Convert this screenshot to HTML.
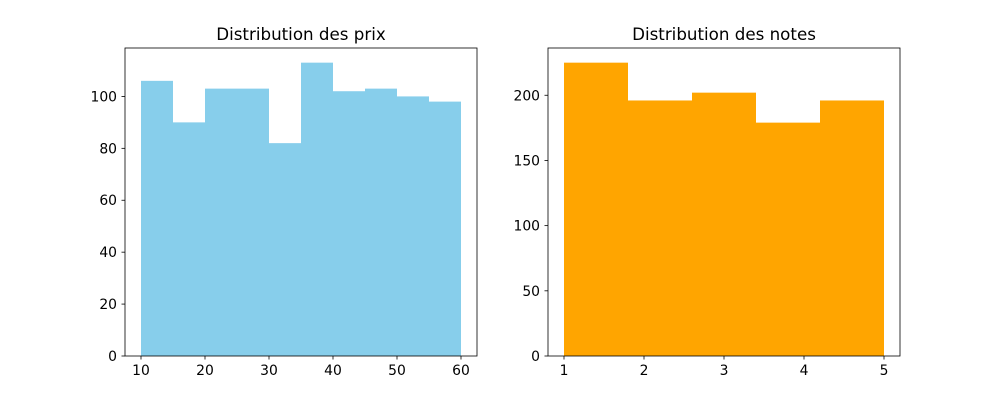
<!DOCTYPE html>
<html><head><meta charset="utf-8"><style>
body{margin:0;background:#fff;}
text{font-family:"DejaVu Sans","Liberation Sans",sans-serif;font-size:13.9px;fill:#000;}
.t{font-size:16.7px;}
</style></head><body>
<svg id="fig" width="1000" height="400" xmlns="http://www.w3.org/2000/svg"></svg>
<script>
const priceBinEdges=[10,15,20,25,30,35,40,45,50,55,60];
const priceCounts=[106,90,103,103,82,113,102,103,100,98];
const priceXTicks=[10,20,30,40,50,60];
const priceYTicks=[0,20,40,60,80,100];
const noteBinEdges=[1,1.8,2.6,3.4,4.2,5];
const noteCounts=[225,196,202,179,196];
const noteXTicks=[1,2,3,4,5];
const noteYTicks=[0,50,100,150,200];

const NS="http://www.w3.org/2000/svg";
const svg=document.getElementById('fig');
function mk(tag,attrs,parent){const e=document.createElementNS(NS,tag);for(const k in attrs)e.setAttribute(k,attrs[k]);(parent||svg).appendChild(e);return e;}

function hist(x0,x1,edges,counts,xt,yt,color,title,nm){
  const y0=48,y1=356;
  const lo=edges[0],hi=edges[edges.length-1],pad=(hi-lo)*0.05;
  const xmin=lo-pad,xmax=hi+pad,ymax=Math.max(...counts)*1.05;
  const sx=v=>x0+(v-xmin)/(xmax-xmin)*(x1-x0);
  const sy=v=>y1-v/ymax*(y1-y0);
  const g=mk('g',{});
  
  
  counts.forEach((c,i)=>{
    const r=mk('rect',{x:sx(edges[i]),y:sy(c),width:sx(edges[i+1])-sx(edges[i]),height:y1-sy(c),fill:color},g);
    
    
  });
  const f=mk('rect',{x:x0,y:y0,width:x1-x0,height:y1-y0,fill:'none',stroke:'#000','stroke-width':0.8},g);
  
  
  xt.forEach(v=>{
    const x=sx(v);
    mk('line',{x1:x,x2:x,y1:y1,y2:y1+3.5,stroke:'#000','stroke-width':0.8},g);
    const t=mk('text',{x:x,y:y1+19,'text-anchor':'middle'},g);t.textContent=v;
    
    
  });
  yt.forEach(v=>{
    const y=sy(v);
    mk('line',{x1:x0,x2:x0-3.5,y1:y,y2:y,stroke:'#000','stroke-width':0.8},g);
    const t=mk('text',{x:x0-8,y:y+5,'text-anchor':'end'},g);t.textContent=v;
    
    
  });
  const t=mk('text',{x:(x0+x1)/2,y:y0-8,'text-anchor':'middle',class:'t'},g);t.textContent=title;
  
  
}
hist(125,477,priceBinEdges,priceCounts,priceXTicks,priceYTicks,'#87ceeb','Distribution des prix','price');
hist(548,900,noteBinEdges,noteCounts,noteXTicks,noteYTicks,'#ffa500','Distribution des notes','note');
</script>
</body></html>
